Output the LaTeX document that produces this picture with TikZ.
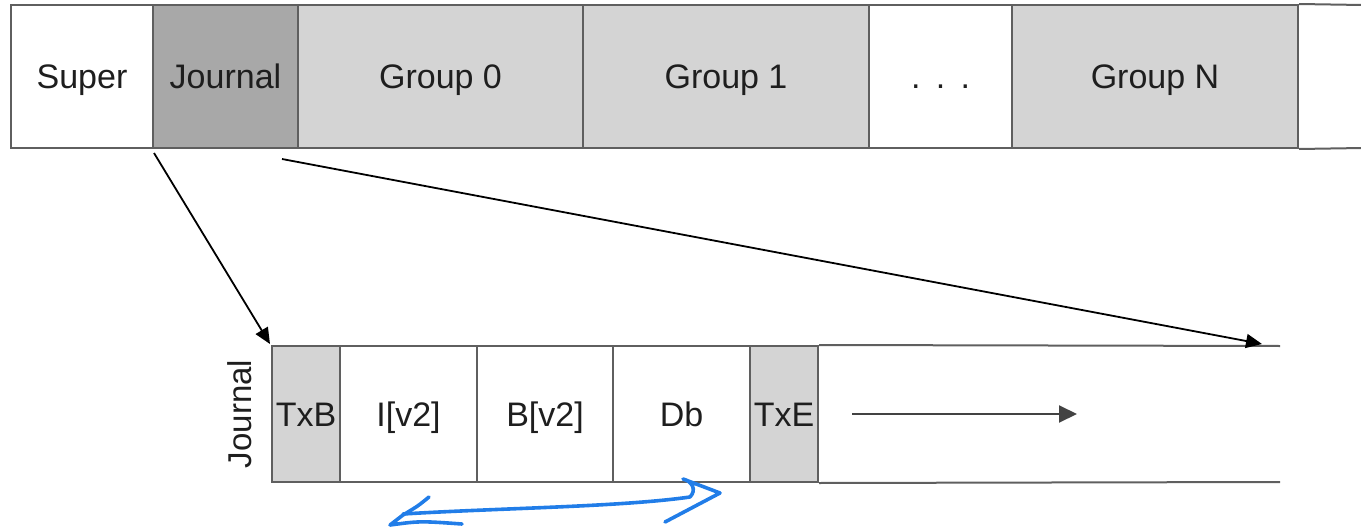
\documentclass[tikz,border=0pt]{standalone}
\usepackage{fontspec}
\setmainfont{Liberation Sans}
\usetikzlibrary{arrows.meta}
\definecolor{bordergray}{RGB}{95,95,95}
\definecolor{darkfill}{RGB}{168,168,168}
\definecolor{lightfill}{RGB}{212,212,212}
\definecolor{penblue}{RGB}{33,125,232}
\definecolor{textdark}{RGB}{30,30,30}
\begin{document}
\begin{tikzpicture}[x=1pt,y=-1pt,
  cellbox/.style={draw=bordergray, line width=2pt, inner sep=0pt, text=textdark,
    font=\fontsize{34}{40}\selectfont, text height=24.3pt, text depth=0pt},
  topcell/.style={cellbox, minimum height=143pt},
  botcell/.style={cellbox, minimum height=136pt},
  edgeline/.style={draw=bordergray, line width=2pt},
  blackarrow/.style={line width=1.8pt, -{Triangle[length=16pt,width=14pt]}},
  pen/.style={draw=penblue, line width=3.6pt, line cap=round, line join=round}]
\useasboundingbox (0,0) rectangle (1361,530);
% top bar
\node[topcell, fill=white, minimum width=142pt] (super) at (82,76.5) {Super};
\node[topcell, fill=darkfill, minimum width=145pt] (journal) at (225.5,76.5) {Journal};
\node[topcell, fill=lightfill, minimum width=285pt] (g0) at (440.5,76.5) {Group 0};
\node[topcell, fill=lightfill, minimum width=286pt] (g1) at (726,76.5) {Group 1};
\node[topcell, fill=white, minimum width=143pt] (dots) at (940.5,76.5) {.\hspace{0.45em}.\hspace{0.45em}.};
\node[topcell, fill=lightfill, minimum width=286pt] (gN) at (1155,76.5) {Group N};
\coordinate (topTR) at (1362,5);
\coordinate (topBR) at (1362,148);
\draw[edgeline] (gN.north east) -- (topTR);
\draw[edgeline] (gN.south east) -- (topBR);
% bottom bar
\node[botcell, fill=lightfill, minimum width=68pt] (txb) at (306,414) {TxB};
\node[botcell, fill=white, minimum width=137pt] (iv) at (408.5,414) {I[v2]};
\node[botcell, fill=white, minimum width=136pt] (bv) at (545,414) {B[v2]};
\node[botcell, fill=white, minimum width=137pt] (db) at (681.5,414) {Db};
\node[botcell, fill=lightfill, minimum width=68pt] (txe) at (784,414) {TxE};
\coordinate (botTR) at (1280,346);
\coordinate (botBR) at (1280,482);
\draw[edgeline] (txe.north east) -- (botTR);
\draw[edgeline] (txe.south east) -- (botBR);
\node[text=textdark, font=\fontsize{33}{40}\selectfont, rotate=90, inner sep=0pt, text height=23.6pt, text depth=0pt] (jlabel) at (240,414) {Journal};
% inner arrow
\coordinate (fa) at (852,414);
\coordinate (fb) at (1077,414);
\draw[draw=bordergray!70!black, line width=2pt, -{Triangle[length=18pt,width=17pt]}] (fa) -- (fb);
% zoom arrows
\draw[blackarrow] ([yshift=-4pt]super.south east) -- ([xshift=-1pt,yshift=1pt]txb.north west);
\draw[blackarrow] ([xshift=-17pt,yshift=-10pt]journal.south east) -- ([xshift=-18pt,yshift=2pt]botTR);
% blue freehand arrow
\draw[pen] (429,497) .. controls (418,506) .. (403,515) -- (390,525) .. controls (420,521) .. (462,524);
\draw[pen] (403,514) .. controls (500,508) and (620,507) .. (690,497);
\draw[pen] (690,497) .. controls (697,490) and (692,481) .. (683,479) -- (720,493) -- (665,522);
\end{tikzpicture}
\end{document}
